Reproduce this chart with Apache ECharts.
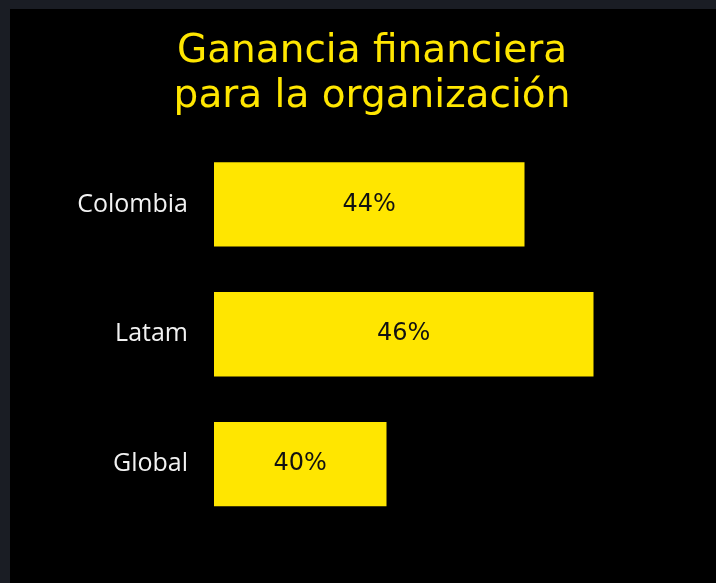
<!DOCTYPE html>
<html>
<head>
<meta charset="utf-8">
<script src="https://cdn.jsdelivr.net/npm/echarts@6/dist/echarts.min.js"></script>
<style>
  html, body { margin: 0; padding: 0; background: #1a1d24; }
  #chart { position: absolute; left: 10px; top: 9px; width: 706px; height: 574px; background: #000; }
</style>
</head>
<body>
<div id="chart"></div>
<script>
// datos
var regions = ['Colombia', 'Latam', 'Global'];
var gain = [44, 46, 40];

var chart = echarts.init(document.getElementById('chart'));

var option = {
  backgroundColor: '#000',
  title: {
    text: 'Ganancia financiera\npara la organización',
    left: 357,
    top: 15,
    textAlign: 'center',
    textStyle: {
      color: '#ffe600',
      fontFamily: 'DejaVu Sans',
      fontWeight: 'normal',
      fontSize: 39,
      lineHeight: 45
    }
  },
  grid: {
    left: 204,
    right: 53.5,
    top: 130.5,
    bottom: 54
  },
  xAxis: {
    type: 'value',
    min: 35,
    max: 48,
    show: false
  },
  yAxis: {
    type: 'category',
    data: regions,
    inverse: true,
    axisLine: { show: false },
    axisTick: { show: false },
    axisLabel: {
      color: '#f2f2f2',
      fontFamily: 'Open Sans',
      fontSize: 25,
      margin: 26
    }
  },
  series: [{
    type: 'bar',
    data: gain,
    barCategoryGap: '35%',
    itemStyle: { color: '#ffe600' },
    label: {
      show: true,
      position: 'inside',
      formatter: '{c}%',
      color: '#111',
      fontFamily: 'DejaVu Sans',
      fontSize: 24
    },
    silent: true
  }],
  animation: false
};

chart.setOption(option);
</script>
</body>
</html>
